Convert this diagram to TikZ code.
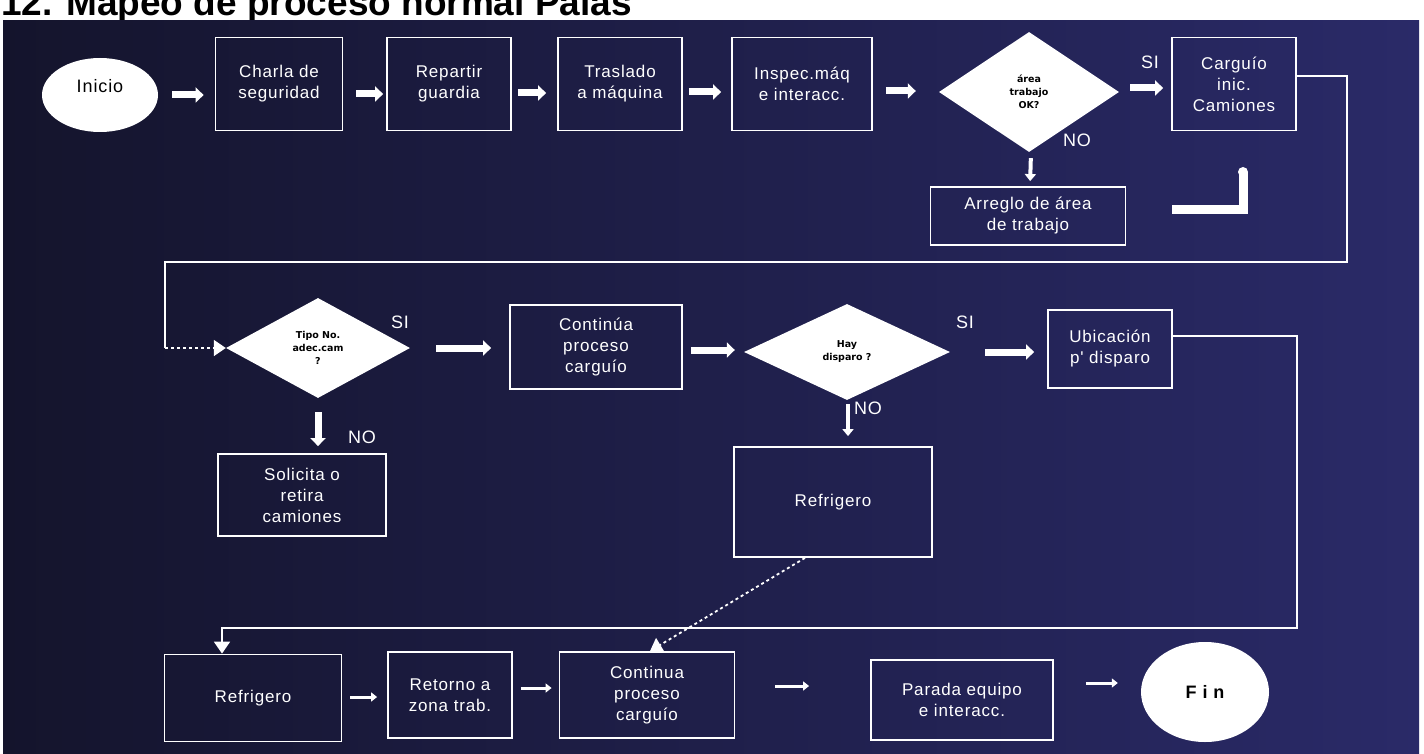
\documentclass[tikz,border=0pt]{standalone}
\usepackage{fontspec}
\setmainfont{Liberation Sans}
\newfontfamily\boxfont[LetterSpace=5]{Liberation Sans}
\newfontfamily\titlefont{Liberation Sans}
\newfontfamily\decfont{DejaVu Sans}
\usetikzlibrary{shapes.geometric,arrows.meta}

\definecolor{panelL}{RGB}{20,20,44}
\definecolor{panelM}{RGB}{24,24,58}
\definecolor{panelR}{RGB}{42,42,104}

\begin{document}
\begin{tikzpicture}[x=1pt,y=-1pt,
  every node/.style={inner sep=0pt},
  procbox/.style={draw=white, line width=1.8pt, text=white, align=center,
    font=\boxfont\fontsize{17}{21}\selectfont},
  decision/.style={diamond, fill=white, text=black, align=center,
    font=\decfont\bfseries\fontsize{9.5}{13}\selectfont},
  term/.style={ellipse, fill=white, text=black,
    font=\boxfont\fontsize{18}{21}\selectfont},
  lbl/.style={text=white, font=\boxfont\fontsize{18}{21}\selectfont},
  bigarrow/.style={draw=white, line width=7pt, -{Triangle[length=8pt,width=15pt]}},
  medarrow/.style={draw=white, line width=4pt, -{Triangle[length=7pt,width=11pt]}},
  thinarrow/.style={draw=white, line width=3pt, -{Triangle[length=6pt,width=9pt]}},
  conn/.style={draw=white, line width=1.8pt},
  conntip/.style={-{Triangle[length=12pt,width=16pt]}},
  elbow/.style={draw=white, line width=9pt, line join=miter}
]
\useasboundingbox (0,0) rectangle (1424,754);
\clip (0,0) rectangle (1424,754);
\fill[white] (0,0) rectangle (1424,754);

% heading and dark panel
\node[anchor=base west, text=black, font=\titlefont\bfseries\fontsize{37}{40}\selectfont] (title) at (1,16) {12. Mapeo de proceso normal Palas};
\shade[left color=panelL, middle color=panelM, right color=panelR] (3,21) rectangle (1419,754);

% ---- first row ----
\node[term, minimum width=116pt, minimum height=74pt] (ini) at (100,95) {\raisebox{19pt}{Inicio}};
\node[procbox, minimum width=127pt, minimum height=93pt] (charla) at (279,84) {Charla de\\seguridad};
\node[procbox, minimum width=124pt, minimum height=93pt] (repartir) at (449,84) {Repartir\\guardia};
\node[procbox, minimum width=124pt, minimum height=93pt] (traslado) at (620,84) {Traslado\\a máquina};
\node[procbox, minimum width=140pt, minimum height=93pt] (inspec) at (802,84) {Inspec.máq\\e interacc.};
\node[decision, minimum width=180pt, minimum height=120pt] (d1) at (1029,92) {área\\trabajo\\OK?};
\node[procbox, minimum width=124pt, minimum height=93pt] (carguio) at (1234,84) {Carguío\\inic.\\Camiones};
\node[procbox, minimum width=195pt, minimum height=58pt] (arreglo) at (1028,216) {Arreglo de área\\de trabajo};
\node[lbl] (si1) at (1150,62) {SI};
\node[lbl] (no1) at (1077,140) {NO};

\draw[bigarrow, shorten <=14pt, shorten >=11pt] (ini.east |- 0,95) -- (charla.west |- 0,95);
\draw[bigarrow, shorten <=13pt, shorten >=3pt] (charla.east |- 0,94) -- (repartir.west |- 0,94);
\draw[bigarrow, shorten <=6pt, shorten >=11pt] (repartir.east |- 0,93) -- (traslado.west |- 0,93);
\draw[bigarrow, shorten <=6pt, shorten >=10pt] (traslado.east |- 0,92) -- (inspec.west |- 0,92);
\draw[bigarrow, shorten <=13pt, shorten >=23pt] (inspec.east |- 0,91) -- (d1.west |- 0,91);
\draw[bigarrow, shorten <=11pt, shorten >=8pt] (d1.east |- 0,88) -- (carguio.west |- 0,88);
\draw[medarrow, shorten <=6pt, shorten >=5pt] ([xshift=2pt]d1.south) -- ([xshift=2pt]arreglo.north);

% white elbow mark beside the repair box
\coordinate (e1) at (1172,210);
\coordinate (e2) at (1243,210);
\coordinate (e3) at (1243,172);
\draw[elbow] (e1) -- (e2) -- (e3);
\fill[white] (e3) circle (5pt);

% ---- second row ----
\node[decision, minimum width=184pt, minimum height=100pt] (d2) at (318,348) {Tipo No.\\adec.cam\\?};
\node[procbox, minimum width=172pt, minimum height=84pt] (cont1) at (596,347) {Continúa\\proceso\\carguío};
\node[decision, minimum width=206pt, minimum height=96pt] (d3) at (847,352) {Hay\\disparo ?};
\node[procbox, minimum width=124pt, minimum height=78pt] (ubic) at (1110,349) {Ubicación\\p' disparo};
\node[procbox, minimum width=168pt, minimum height=82pt] (solic) at (302,495) {Solicita o\\retira\\camiones};
\node[procbox, minimum width=198pt, minimum height=110pt] (refri1) at (833,502) {Refrigero};
\node[lbl] (si2) at (400,322) {SI};
\node[lbl] (no2) at (362,437) {NO};
\node[lbl] (si3) at (965,322) {SI};
\node[lbl] (no3) at (868,408) {NO};

\draw[bigarrow, shorten <=26pt, shorten >=18pt] (d2.east |- 0,348) -- (cont1.west |- 0,348);
\draw[bigarrow, shorten <=8pt, shorten >=9pt] (cont1.east |- 0,350) -- (d3.west |- 0,350);
\draw[bigarrow, shorten <=35pt, shorten >=13pt] (d3.east |- 0,352) -- (ubic.west |- 0,352);
\draw[bigarrow, shorten <=14pt, shorten >=7pt] (d2.south) -- (d2.south |- solic.north);
\draw[medarrow, shorten <=4pt, shorten >=10pt] ([xshift=1pt]d3.south) -- ([xshift=1pt]d3.south |- refri1.north);

% loop from the truck loading box back to the truck check
\draw[conn] (carguio.east |- 0,76) -- (1347,76) -- (1347,262) -- (165,262) -- (165,348) coordinate (lp);
\draw[conn, dashed, conntip] (lp) -- (d2.west);

% ---- third row ----
\node[procbox, minimum width=177pt, minimum height=87pt] (refri2) at (253,698) {Refrigero};
\node[procbox, minimum width=124pt, minimum height=86pt] (retorno) at (450,695) {Retorno a\\zona trab.};
\node[procbox, minimum width=175pt, minimum height=86pt] (cont2) at (647,695) {Continua\\proceso\\carguío};
\node[procbox, minimum width=182pt, minimum height=80pt] (parada) at (962,700) {Parada equipo\\e interacc.};
\node[term, minimum width=128pt, minimum height=100pt, font=\boxfont\bfseries\fontsize{18}{21}\selectfont] (fin) at (1205,692) {F i n};

% blasting branch down to the lunch break
\draw[conn, conntip] (ubic.east |- 0,336) -- (1297,336) -- (1297,628) -- (222,628) -- (refri2.north -| 222,0);
\draw[conn, dashed, conntip] ([xshift=-28pt]refri1.south) -- ([xshift=3pt]cont2.north);

\draw[thinarrow, shorten <=8pt, shorten >=10pt] (refri2.east |- 0,697) -- (retorno.west |- 0,697);
\draw[thinarrow, shorten <=8pt, shorten >=7pt] (retorno.east |- 0,688) -- (cont2.west |- 0,688);
\draw[thinarrow, shorten <=40pt, shorten >=61pt] (cont2.east |- 0,686) -- (parada.west |- 0,686);
\draw[thinarrow, shorten <=32pt, shorten >=23pt] (parada.east |- 0,683) -- (fin.west |- 0,683);
\end{tikzpicture}
\end{document}
